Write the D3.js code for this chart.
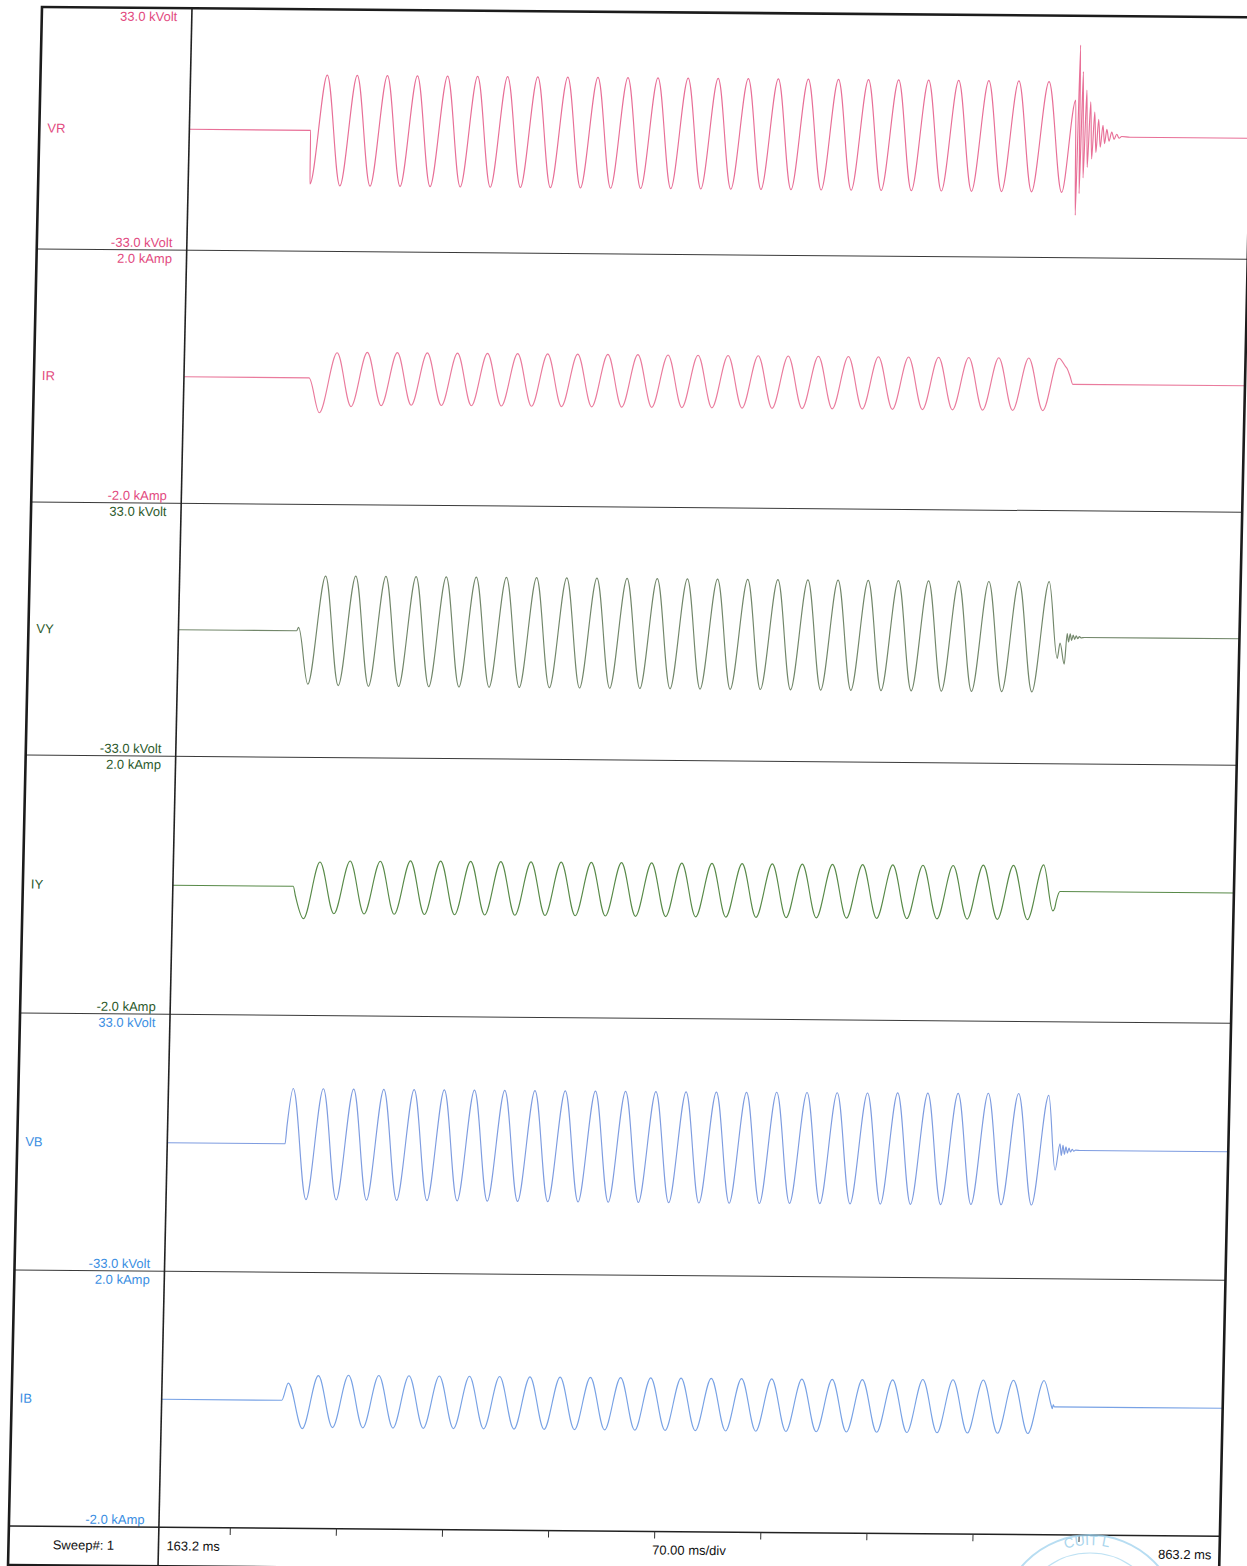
<!DOCTYPE html>
<html>
<head>
<meta charset="utf-8">
<script src="https://cdn.jsdelivr.net/npm/d3@7/dist/d3.min.js"></script>
<style>
  body { margin: 0; background: #fff; }
  svg { display: block; }
  text { font-family: "Liberation Sans", Arial, sans-serif; font-size: 13px; }
</style>
</head>
<body>
<div id="chart"></div>
<script>
/* DATA - [time ms, value], extrema */
const vrData = [[163.2,0],[243.2,0],[243.5,-14.6],
  [253.4,15.1],[263.3,-15.1],[273.2,15.1],[283.2,-15.1],[293.1,15.1],[303.0,-15.1],[312.9,15.1],[322.8,-15.1],
  [332.8,15.1],[342.7,-15.1],[352.6,15.1],[362.5,-15.1],[372.4,15.1],[382.4,-15.1],[392.3,15.1],[402.2,-15.1],
  [412.1,15.1],[422.0,-15.1],[432.0,15.1],[441.9,-15.1],[451.8,15.1],[461.7,-15.1],[471.6,15.1],[481.6,-15.1],
  [491.5,15.1],[501.4,-15.1],[511.3,15.1],[521.2,-15.1],[531.2,15.1],[541.1,-15.1],[551.0,15.1],[560.9,-15.1],
  [570.8,15.1],[580.8,-15.1],[590.7,15.1],[600.6,-15.1],[610.5,15.1],[620.4,-15.1],[630.4,15.1],[640.3,-15.1],
  [650.2,15.1],[660.1,-15.1],[670.0,15.1],[680.0,-15.1],[689.9,15.1],[699.8,-15.1],[709.7,15.1],[719.6,-15.1],
  [729.6,15.0],[739.5,-15.2],
  [747.5,10.0],[748.8,-21.4],[749.9,25.0],[751.0,-15.5],[752.1,17.8],[753.4,-11.2],[754.7,12.8],[756.0,-8.3],
  [757.4,9.6],[758.8,-6.0],[760.2,6.8],[761.5,-4.2],[762.9,4.8],[764.3,-2.8],[765.8,3.2],[767.1,-1.8],
  [768.4,2.1],[770.0,-1.1],[771.7,1.4],[773.3,-0.6],[775.0,0.8],[776.6,-0.3],[778.3,0.2],[783.8,0],[863.2,0]];

const irData = [[163.2,0],[245.7,0],[253.0,-0.55],
  [263.9,0.40],[273.8,-0.45],[283.8,0.41],[293.7,-0.43],[303.6,0.41],[313.5,-0.42],[323.4,0.41],[333.4,-0.42],
  [343.3,0.41],[353.2,-0.42],[363.1,0.41],[373.0,-0.42],[383.0,0.41],[392.9,-0.42],[402.8,0.41],[412.7,-0.42],
  [422.6,0.41],[432.6,-0.42],[442.5,0.41],[452.4,-0.42],[462.3,0.41],[472.2,-0.42],[482.2,0.41],[492.1,-0.42],
  [502.0,0.41],[511.9,-0.42],[521.8,0.41],[531.8,-0.42],[541.7,0.41],[551.6,-0.42],[561.5,0.41],[571.4,-0.42],
  [581.4,0.41],[591.3,-0.42],[601.2,0.41],[611.1,-0.42],[621.0,0.41],[631.0,-0.42],[640.9,0.41],[650.8,-0.42],
  [660.7,0.41],[670.6,-0.42],[680.6,0.41],[690.5,-0.42],[700.4,0.41],[710.3,-0.42],[720.2,0.41],[730.2,-0.42],
  [740.1,0.41],[744.6,0.28],[745.6,0.25],[747.8,0.12],[749.6,0.0],[863.2,0]];

const vyData = [[163.2,0],[241.2,0],[242.4,0.9],[249.3,-13.9],
  [259.5,14.3],[269.4,-14.2],[279.4,14.4],[289.3,-14.3],[299.3,14.4],[309.2,-14.3],[319.2,14.4],[329.1,-14.3],
  [339.1,14.4],[349.0,-14.3],[358.9,14.4],[368.9,-14.3],[378.8,14.4],[388.8,-14.3],[398.7,14.4],[408.7,-14.3],
  [418.6,14.4],[428.6,-14.3],[438.5,14.4],[448.5,-14.3],[458.4,14.4],[468.4,-14.3],[478.3,14.4],[488.3,-14.3],
  [498.2,14.4],[508.1,-14.3],[518.1,14.4],[528.0,-14.3],[538.0,14.4],[547.9,-14.3],[557.9,14.4],[567.8,-14.3],
  [577.7,14.4],[587.7,-14.3],[597.6,14.4],[607.6,-14.3],[617.5,14.4],[627.5,-14.3],[637.4,14.4],[647.4,-14.3],
  [657.3,14.4],[667.3,-14.3],[677.2,14.4],[687.2,-14.3],[697.1,14.4],[707.1,-14.3],[717.0,14.5],[727.0,-14.3],
  [736.9,14.5],[743.3,-5.5],[744.9,-1.5],[748.0,-7.0],[749.5,1.0],[750.5,-1.2],[751.5,0.9],[752.5,-0.8],
  [753.5,0.6],[754.5,-0.5],[755.5,0.4],[756.5,-0.3],[757.6,0.2],[758.7,-0.1],[761.0,0],[863.2,0]];

const iyData = [[163.2,0],[242.6,0],[244.2,-0.15],[249.8,-0.50],
  [259.9,0.38],[269.8,-0.42],[279.8,0.40],[289.7,-0.42],[299.7,0.40],[309.6,-0.42],[319.6,0.41],[329.5,-0.42],
  [339.5,0.41],[349.4,-0.42],[359.3,0.41],[369.3,-0.42],[379.2,0.41],[389.2,-0.42],[399.1,0.41],[409.1,-0.42],
  [419.0,0.41],[429.0,-0.42],[438.9,0.41],[448.9,-0.42],[458.8,0.41],[468.8,-0.42],[478.7,0.41],[488.7,-0.42],
  [498.6,0.41],[508.5,-0.42],[518.5,0.41],[528.4,-0.42],[538.4,0.41],[548.3,-0.42],[558.3,0.41],[568.2,-0.42],
  [578.1,0.41],[588.1,-0.42],[598.0,0.41],[608.0,-0.42],[617.9,0.41],[627.9,-0.42],[637.8,0.41],[647.8,-0.42],
  [657.7,0.41],[667.7,-0.42],[677.6,0.41],[687.6,-0.42],[697.5,0.42],[707.5,-0.42],[717.4,0.42],[727.4,-0.42],
  [737.3,0.43],[744.0,-0.28],[745.2,-0.24],[746.2,-0.12],[748.5,0.02],[863.2,0.02]];

const vbData = [[163.2,0],[240.9,0],[242.0,4.8],
  [245.5,14.2],[255.5,-14.3],[265.4,14.2],[275.4,-14.3],[285.4,14.2],[295.4,-14.3],[305.3,14.2],[315.3,-14.3],
  [325.3,14.2],[335.3,-14.3],[345.2,14.2],[355.2,-14.3],[365.1,14.2],[375.1,-14.3],[385.1,14.2],[395.1,-14.3],
  [405.0,14.2],[415.0,-14.3],[425.0,14.2],[435.0,-14.3],[444.9,14.2],[454.9,-14.3],[464.8,14.2],[474.8,-14.3],
  [484.8,14.2],[494.8,-14.3],[504.7,14.2],[514.7,-14.3],[524.7,14.2],[534.7,-14.3],[544.6,14.2],[554.6,-14.3],
  [564.5,14.3],[574.5,-14.2],[584.5,14.3],[594.5,-14.2],[604.4,14.3],[614.4,-14.2],[624.4,14.3],[634.4,-14.2],
  [644.3,14.4],[654.3,-14.2],[664.2,14.4],[674.2,-14.2],[684.2,14.4],[694.2,-14.1],[704.1,14.5],[714.1,-14.1],
  [724.1,14.5],[734.1,-14.1],[744.0,14.1],
  [749.2,-5.1],[752.1,1.7],[753.1,-1.3],[754.1,1.3],[755.1,-1.0],[756.1,0.9],[757.1,-0.7],[758.1,0.6],
  [759.1,-0.4],[760.2,0.3],[761.3,-0.2],[762.5,0.1],[766.0,0],[863.2,0]];

const ibData = [[163.2,0],[242.4,0],[246.5,0.27],[256.4,-0.44],
  [266.2,0.39],[276.3,-0.42],[286.1,0.40],[296.3,-0.42],[306.1,0.40],[316.2,-0.42],[326.0,0.40],[336.2,-0.42],
  [346.0,0.40],[356.1,-0.42],[365.9,0.40],[376.0,-0.42],[385.8,0.40],[396.0,-0.42],[405.8,0.40],[415.9,-0.42],
  [425.7,0.40],[435.9,-0.42],[445.7,0.40],[455.8,-0.42],[465.6,0.40],[475.7,-0.42],[485.5,0.40],[495.7,-0.42],
  [505.5,0.40],[515.6,-0.42],[525.4,0.40],[535.6,-0.42],[545.4,0.40],[555.5,-0.42],[565.3,0.40],[575.4,-0.42],
  [585.2,0.40],[595.4,-0.42],[605.2,0.40],[615.3,-0.42],[625.1,0.40],[635.3,-0.42],[645.1,0.40],[655.2,-0.42],
  [665.0,0.41],[675.1,-0.42],[684.9,0.41],[695.1,-0.42],[704.9,0.41],[715.0,-0.42],[724.8,0.41],[735.0,-0.42],
  [745.0,0.41],[750.2,0.01],[750.8,-0.03],[751.4,0.03],[752.2,0],[863.2,0]];

const channelNames = ["VR", "IR", "VY", "IY", "VB", "IB"];
const channelData = [vrData, irData, vyData, iyData, vbData, ibData];
const fullScale = [33.0, 2.0, 33.0, 2.0, 33.0, 2.0];
const topLabels = ["33.0 kVolt", "2.0 kAmp", "33.0 kVolt", "2.0 kAmp", "33.0 kVolt", "2.0 kAmp"];
const bottomLabels = ["-33.0 kVolt", "-2.0 kAmp", "-33.0 kVolt", "-2.0 kAmp", "-33.0 kVolt", "-2.0 kAmp"];
const tickTimes = [210, 280, 350, 420, 490, 560, 630, 700, 770];
const startTime = 163.2, endTime = 863.2;
const sweepLabel = "Sweep#: 1";
const startLabel = "163.2 ms", endLabel = "863.2 ms", divLabel = "70.00 ms/div";

/* LAYOUT */
const width = 1247, height = 1566;
const frameW = 1211, frameH = 1558, labelW = 150;
const bandEdges = [0, 242, 495, 748, 1006, 1263, 1519];
const lineColors = ["#e86f97", "#ea7b9d", "#72876a", "#588a48", "#7e9ce0", "#78a2e5"];
const textColors = ["#e24a80", "#e24a80", "#2c5a2c", "#2c5a2c", "#3a8ee2", "#3a8ee2"];

const svg = d3.select("#chart").append("svg")
  .attr("width", width)
  .attr("height", height);

svg.append("rect").attr("width", width).attr("height", height).attr("fill", "#fff");

// the scanned sheet is slightly skewed, so the whole record sits in a sheared group
const g = svg.append("g").attr("transform", "matrix(1,0.0085,-0.0218,1,42,7)");

const xScale = d3.scaleLinear().domain([startTime, endTime]).range([labelW, frameW]);

// band separators
g.selectAll("line.sep")
  .data(bandEdges.slice(1, 6))
  .join("line")
  .attr("class", "sep")
  .attr("x1", 0).attr("x2", frameW)
  .attr("y1", d => d).attr("y2", d => d)
  .attr("stroke", "#3a3a3a").attr("stroke-width", 1);

// traces + labels
channelData.forEach((data, i) => {
  const top = bandEdges[i], bottom = bandEdges[i + 1];
  const yScale = d3.scaleLinear().domain([-fullScale[i], fullScale[i]]).range([bottom, top]);
  const line = d3.line()
    .x(d => xScale(d[0]))
    .y(d => yScale(d[1]))
    .curve(d3.curveMonotoneX);

  g.append("path")
    .datum(data)
    .attr("d", line)
    .attr("fill", "none")
    .attr("stroke", lineColors[i])
    .attr("stroke-width", 1.15);

  g.append("text")
    .attr("x", 8).attr("y", (top + bottom) / 2)
    .attr("dy", "0.35em")
    .attr("fill", textColors[i])
    .text(channelNames[i]);

  g.append("text")
    .attr("x", labelW - 14.5).attr("y", top + 13)
    .attr("text-anchor", "end")
    .attr("fill", textColors[i])
    .text(topLabels[i]);

  g.append("text")
    .attr("x", labelW - 14.5).attr("y", bottom - 3)
    .attr("text-anchor", "end")
    .attr("fill", textColors[i])
    .text(bottomLabels[i]);
});

// time axis line and ticks
const axisY = bandEdges[6];
g.append("line")
  .attr("x1", 0).attr("x2", frameW)
  .attr("y1", axisY).attr("y2", axisY)
  .attr("stroke", "#222").attr("stroke-width", 1.5);

const xAxis = d3.axisBottom(xScale).tickValues(tickTimes).tickSize(7).tickFormat("");
const axisG = g.append("g").attr("transform", `translate(0,${axisY})`).call(xAxis);
axisG.select(".domain").remove();
axisG.selectAll(".tick line").attr("stroke", "#333").attr("stroke-width", 1);

// footer texts
const footY = axisY + 23;
g.append("text").attr("x", labelW / 2).attr("y", footY).attr("text-anchor", "middle").attr("fill", "#111").text(sweepLabel);
g.append("text").attr("x", xScale(startTime) + 8).attr("y", footY).attr("fill", "#111").text(startLabel);
g.append("text").attr("x", xScale((startTime + endTime) / 2)).attr("y", footY).attr("text-anchor", "middle").attr("fill", "#111").text(divLabel);
g.append("text").attr("x", xScale(endTime) - 8).attr("y", footY).attr("text-anchor", "end").attr("fill", "#111").text(endLabel);

// divider and outer frame
g.append("line")
  .attr("x1", labelW).attr("x2", labelW)
  .attr("y1", 0).attr("y2", frameH)
  .attr("stroke", "#222").attr("stroke-width", 1.6);

g.append("rect")
  .attr("x", 0).attr("y", 0)
  .attr("width", frameW).attr("height", frameH)
  .attr("fill", "none")
  .attr("stroke", "#1c1c1c").attr("stroke-width", 2.6);

// faint rubber stamp in the lower right corner
const stamp = svg.append("g").attr("opacity", 0.75);
stamp.append("circle").attr("cx", 1090).attr("cy", 1625).attr("r", 90)
  .attr("fill", "none").attr("stroke", "#9fd2ee").attr("stroke-width", 2);
stamp.append("circle").attr("cx", 1090).attr("cy", 1625).attr("r", 72)
  .attr("fill", "none").attr("stroke", "#a9d8f0").attr("stroke-width", 1.2);
stamp.append("path").attr("id", "stampArc")
  .attr("d", "M1010,1625 A80,80 0 0,1 1170,1625").attr("fill", "none");
stamp.append("text")
  .attr("fill", "#8cc8e8").style("font-size", "14px")
  .append("textPath").attr("href", "#stampArc").attr("startOffset", "40%")
  .text("CUIT L");
</script>
</body>
</html>
